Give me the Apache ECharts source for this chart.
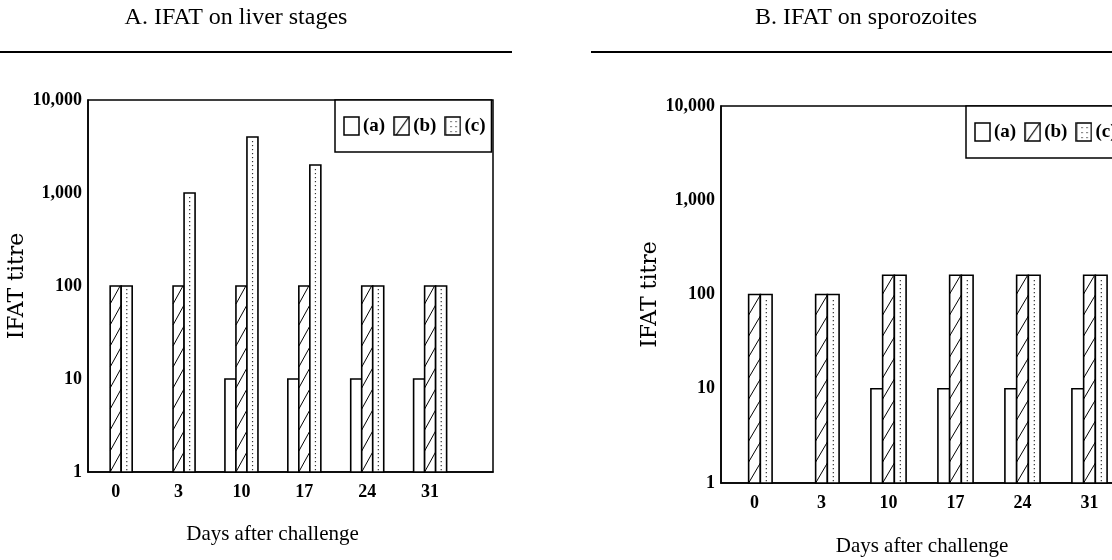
<!DOCTYPE html>
<html><head><meta charset="utf-8">
<script src="https://cdn.jsdelivr.net/npm/echarts@6/dist/echarts.min.js"></script>
<style>html,body{margin:0;padding:0;background:#fff}#c{width:1112px;height:560px}</style>
</head><body><div id="c"></div>
<script>
// ---- data ----
const days = ['0','3','10','17','24','31'];
const seriesNames = ['(a)','(b)','(c)'];
const liverA = [null,null,10,10,10,10];
const liverB = [100,100,100,100,100,100];
const liverC = [100,1000,4000,2000,100,100];
const sporoA = [null,null,10,10,10,10];
const sporoB = [100,100,160,160,160,160];
const sporoC = [100,100,160,160,160,160];
const yTicks = [1,10,100,1000,10000];
const titles = ['A. IFAT on liver stages','B. IFAT on sporozoites'];
const yName = 'IFAT titre';
const xName = 'Days after challenge';

const FONT = 'Liberation Serif';

function toData(vals){
  const out = [];
  vals.forEach((v,i)=>{ if(v!=null) out.push([i,v]); });
  return out;
}
function makeRender(kind){
  return function(params, api){
    const xi = api.value(0), v = api.value(1);
    const unit = api.size([1, 0])[0];
    const w = unit*0.175;
    const base = api.coord([xi, 1]);
    const top = api.coord([xi, v]);
    const cx = base[0] + (kind-1)*w;
    const x0 = cx - w/2;
    const yb = base[1], yt = top[1];
    const children = [{type:'rect', shape:{x:x0,y:yt,width:w,height:yb-yt}, style:{fill:'#fff', stroke:'#000', lineWidth:1.6}}];
    if(kind===1){
      const h = 20, step = 21;
      for(let y1=yb; y1>yt+1; y1-=step){
        let x2 = x0+w, y2 = y1-h;
        if(y2<yt){ x2 = x0 + w*(y1-yt)/h; y2 = yt; }
        children.push({type:'line', shape:{x1:x0,y1:y1,x2:x2,y2:y2}, style:{stroke:'#000', lineWidth:1}});
      }
    } else if(kind===2){
      for(let y=yb-3; y>yt+2; y-=4){
        children.push({type:'rect', shape:{x:cx-0.5,y:y,width:1.2,height:1.2}, style:{fill:'#333'}});
      }
    }
    return {type:'group', children};
  };
}
function iconURL(kind){
  const c=document.createElement('canvas'); c.width=17;c.height=20;
  const g=c.getContext('2d'); g.fillStyle='#fff'; g.fillRect(0,0,17,20);
  g.strokeStyle='#000'; g.lineWidth=1.5; g.strokeRect(1,1,15,18);
  if(kind===1){ g.lineWidth=1.2; g.beginPath(); g.moveTo(3,19); g.lineTo(15,2); g.stroke(); }
  if(kind===2){ g.fillStyle='#333'; for(const x of [6,11]) for(const y of [5,10,15]) g.fillRect(x,y,1.2,1.2); }
  return 'image://'+c.toDataURL();
}
const icons = [0,1,2].map(iconURL);

const labelStyle = {fontFamily:FONT, fontWeight:'bold', fontSize:18, color:'#000'};
function yAxis(gi){
  return {type:'log', logBase:10, min:1, max:10000, gridIndex:gi, splitNumber:4,
    axisLine:{show:true, onZero:false, lineStyle:{color:'#000', width:1.5}},
    axisTick:{show:false}, splitLine:{show:false},
    axisLabel:Object.assign({margin:6, formatter:v=>{const r=Math.round(v); return r>=1000? r.toLocaleString('en-US'): String(r);}}, labelStyle),
    name:yName, nameLocation:'middle', nameRotate:90, nameGap:58,
    nameTextStyle:{fontFamily:'DejaVu Serif', fontWeight:'normal', fontSize:22, color:'#000'}
  };
}
function xAxis(gi, min, max, pad, gap){
  return {type:'value', gridIndex:gi, min:min, max:max,
    axisLine:{show:true, onZero:false, lineStyle:{color:'#000', width:1.5}},
    axisTick:{show:false}, splitLine:{show:false},
    axisLabel:Object.assign({margin:11, customValues:days.map((d,i)=>i), formatter:v=>days[Math.round(v)]}, labelStyle),
    name:xName, nameLocation:'middle', nameGap:gap,
    nameTextStyle:{fontFamily:FONT, fontSize:21, color:'#000', padding:pad}
  };
}
const legendBase = {orient:'horizontal', itemWidth:17, itemHeight:20, itemGap:8, selectedMode:false,
  borderColor:'#000', borderWidth:1.5, backgroundColor:'#fff', borderRadius:0,
  textStyle:{fontFamily:FONT, fontWeight:'bold', fontSize:19, color:'#000', padding:[0,0,0,-2]},
  data:seriesNames.map((n,i)=>({name:n, icon:icons[i]}))};

const panels = [[liverA,liverB,liverC],[sporoA,sporoB,sporoC]];
const series = [];
panels.forEach((p,gi)=>{
  p.forEach((vals,k)=>{
    series.push({type:'custom', name:seriesNames[k], coordinateSystem:'cartesian2d',
      xAxisIndex:gi, yAxisIndex:gi, encode:{x:0,y:1}, data:toData(vals), renderItem:makeRender(k)});
  });
});

const chart = echarts.init(document.getElementById('c'), null, {renderer:'canvas'});
chart.setOption({
  animation:false,
  backgroundColor:'#fff',
  title:[
    {text:titles[0], left:231, top:1, textAlign:'center', textStyle:{fontFamily:FONT, fontWeight:'normal', fontSize:24, color:'#000'}},
    {text:titles[1], left:861, top:1, textAlign:'center', textStyle:{fontFamily:FONT, fontWeight:'normal', fontSize:24, color:'#000'}}
  ],
  graphic:[
    {type:'line', shape:{x1:0,y1:52,x2:512,y2:52}, style:{stroke:'#000', lineWidth:2}},
    {type:'line', shape:{x1:591,y1:52,x2:1112,y2:52}, style:{stroke:'#000', lineWidth:2}}
  ],
  grid:[
    {left:88, top:100, width:405, height:372, show:true, borderColor:'#000', borderWidth:1.5, backgroundColor:'transparent', outerBoundsMode:'none', containLabel:false},
    {left:721, top:106, width:402, height:377, show:true, borderColor:'#000', borderWidth:1.5, backgroundColor:'transparent', outerBoundsMode:'none', containLabel:false}
  ],
  legend:[
    Object.assign({left:335, top:100, padding:[16,6,16,8]}, legendBase),
    Object.assign({left:966, top:106, width:170, padding:[16,6,16,8]}, legendBase)
  ],
  xAxis:[xAxis(0,-0.44,6,[0,36,0,0],52), xAxis(1,-0.5,5.5,[0,0,0,0],53)],
  yAxis:[yAxis(0), yAxis(1)],
  series:series
});
</script></body></html>
